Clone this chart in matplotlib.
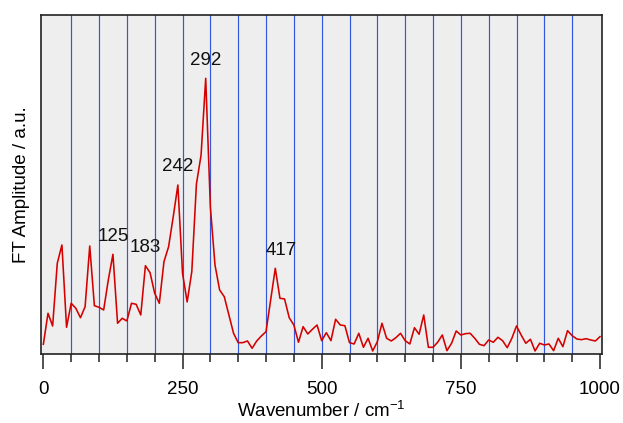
import numpy as np
import matplotlib
matplotlib.use("Agg")
import matplotlib.pyplot as plt
from matplotlib.ticker import MultipleLocator

# FT amplitude spectrum, 121 points from 0 to 1000 cm-1
wavenumber = np.linspace(0, 1000, 121)
amplitude = [
    7.7, 38.7, 26.0, 88.7, 107.0, 24.7, 48.7, 43.7, 34.3, 45.3,
    106.0, 46.3, 44.7, 42.0, 72.0, 97.7, 28.7, 33.7, 31.0, 48.7,
    47.7, 37.0, 86.3, 79.3, 58.7, 48.7, 90.3, 105.3, 135.3, 167.0,
    78.7, 50.0, 80.3, 168.0, 197.0, 273.7, 145.3, 87.0, 62.0, 55.3,
    37.0, 18.7, 9.3, 9.3, 11.0, 3.7, 11.0, 16.0, 20.3, 52.0,
    83.7, 53.7, 53.0, 34.3, 27.0, 9.7, 25.3, 18.0, 22.7, 27.0,
    11.3, 19.3, 11.3, 32.7, 27.0, 26.3, 9.3, 8.0, 18.7, 4.7,
    13.7, 1.0, 10.3, 28.7, 13.7, 11.0, 14.3, 18.7, 11.3, 8.0,
    24.3, 17.7, 37.0, 4.7, 4.7, 9.7, 17.0, 1.3, 8.7, 21.0,
    17.0, 18.3, 18.7, 13.7, 7.7, 6.3, 12.0, 9.7, 14.7, 11.3,
    4.3, 13.7, 26.0, 17.0, 8.7, 12.7, 1.0, 8.7, 7.0, 8.0,
    1.3, 13.7, 5.3, 21.3, 16.3, 13.0, 12.3, 13.3, 12.0, 11.0,
    15.3,
]
peak_labels = [125, 183, 242, 292, 417]
grid_positions = list(range(50, 1000, 50))

plt.rcParams["font.family"] = ["Liberation Sans", "DejaVu Sans"]
plt.rcParams["mathtext.fontset"] = "custom"
plt.rcParams["mathtext.rm"] = "Liberation Sans"

fig = plt.figure(figsize=(6.23, 4.23), dpi=100)
ax = fig.add_axes([0.0653, 0.162, 0.9010, 0.8025])
ax.set_facecolor("#eeeeee")

for xg in grid_positions:
    ax.axvline(xg, color="#3256dc", lw=0.85, zorder=1)

ax.plot(wavenumber, amplitude, color="#d40000", lw=1.15, zorder=3)

# peak labels
for p in peak_labels:
    i = int(np.argmin(np.abs(wavenumber - p)))
    dx = 4 if p == 417 else 0
    ax.annotate(str(p), (wavenumber[i], amplitude[i]), xytext=(dx, 13),
                textcoords="offset points", ha="center", va="center",
                fontsize=13.5, color="#111111", zorder=4)

ax.set_xlim(-4.8, 1003.6)
ax.set_ylim(-2.5, 337)
ax.xaxis.set_major_locator(MultipleLocator(250))
ax.xaxis.set_minor_locator(MultipleLocator(50))
ax.tick_params(axis="x", which="major", length=11, width=1.1, labelsize=13.5,
               pad=8, color="#222222")
ax.tick_params(axis="x", which="minor", length=6, width=1.1, color="#222222")
ax.set_yticks([])
for s in ax.spines.values():
    s.set_linewidth(1.2)
    s.set_color("#222222")

ax.set_xlabel("Wavenumber / cm$^{-1}$", fontsize=13.5, labelpad=2)
ax.set_ylabel("FT Amplitude / a.u.", fontsize=13.5, labelpad=8)

fig.savefig("out.png", dpi=100)
